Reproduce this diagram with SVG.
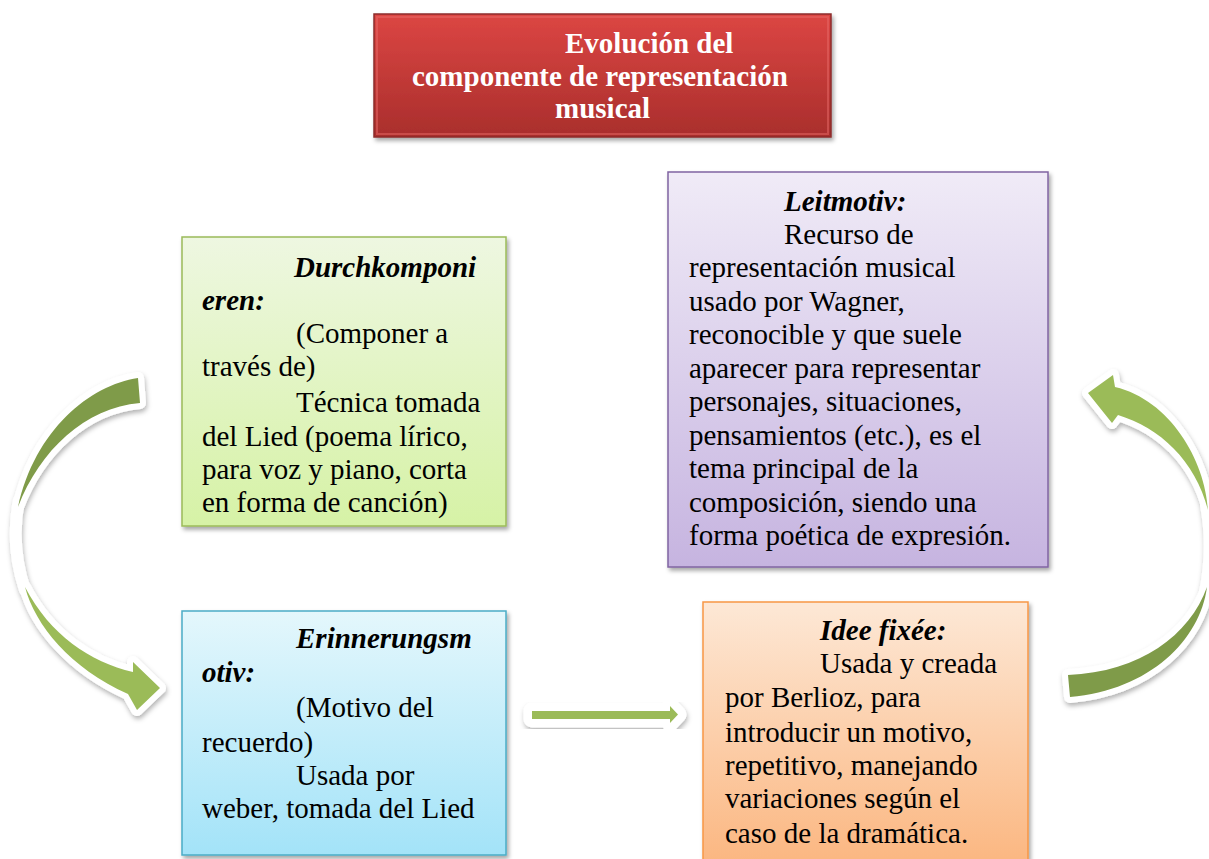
<svg xmlns="http://www.w3.org/2000/svg" width="1209" height="859" viewBox="0 0 1209 859">
  <defs>
    <linearGradient id="gRed" x1="0" y1="0" x2="0" y2="1">
      <stop offset="0" stop-color="#dc4643"/>
      <stop offset="1" stop-color="#a92e2c"/>
    </linearGradient>
    <linearGradient id="gGreen" x1="0" y1="0" x2="0" y2="1">
      <stop offset="0" stop-color="#eef7e1"/>
      <stop offset="1" stop-color="#d6f2a6"/>
    </linearGradient>
    <linearGradient id="gPurple" x1="0" y1="0" x2="0" y2="1">
      <stop offset="0" stop-color="#f0ebf7"/>
      <stop offset="1" stop-color="#c6b4e0"/>
    </linearGradient>
    <linearGradient id="gBlue" x1="0" y1="0" x2="0" y2="1">
      <stop offset="0" stop-color="#e4f7fc"/>
      <stop offset="1" stop-color="#a3e3f8"/>
    </linearGradient>
    <linearGradient id="gOrange" x1="0" y1="0" x2="0" y2="1">
      <stop offset="0" stop-color="#fde8d6"/>
      <stop offset="1" stop-color="#fbb57e"/>
    </linearGradient>
    <filter id="shadow" x="-10%" y="-10%" width="130%" height="130%">
      <feDropShadow dx="2" dy="3" stdDeviation="2" flood-color="#000" flood-opacity="0.35"/>
    </filter>
    <filter id="ashadow" x="-20%" y="-20%" width="150%" height="150%">
      <feDropShadow dx="1" dy="3" stdDeviation="2.5" flood-color="#000" flood-opacity="0.3"/>
    </filter>
  </defs>
  <style>
    .t { font-family: "Liberation Serif", "Times New Roman", serif; font-size: 29px; fill: #000; }
    .h { font-weight: bold; font-style: italic; }
    .title { font-family: "Liberation Serif", "Times New Roman", serif; font-size: 29px; font-weight: bold; fill: #fff; }
    .box { filter: url(#shadow); stroke-width: 1.5; }
    .arr { stroke: #fff; stroke-width: 12; stroke-linejoin: round; paint-order: stroke; }
    .dark { fill: #7f9b48; }
    .light { fill: #9bbb59; }
  </style>

  <g id="connectors">
    <g id="arrow-left" filter="url(#ashadow)">
      <path d="M19,500 Q10,545 25,590" fill="none" stroke="#fff" stroke-width="12" stroke-linecap="round"/>
      <path class="arr dark" d="M138,378 C90,385 35,430 18,507 C40,450 85,408 140,403 Z"/>
      <path class="arr light" d="M25,587 C35,625 70,668 128,694 L137,710 L160,688 L133,662 L133,672 C90,662 50,635 25,587 Z"/>
    </g>
    <g id="arrow-right" filter="url(#ashadow)">
      <path d="M1206,505 Q1214,548 1205,592" fill="none" stroke="#fff" stroke-width="12" stroke-linecap="round"/>
      <path class="arr light" d="M1208,510 C1205,460 1170,400 1115,387 L1113,375 L1088,393 L1112,423 L1118,415 C1160,428 1195,460 1208,510 Z"/>
      <path class="arr dark" d="M1207,587 C1200,640 1150,690 1070,697 L1068,675 C1140,672 1190,635 1207,587 Z"/>
    </g>
    <g id="arrow-middle" filter="url(#ashadow)">
      <path d="M532,711 L670,711 L670,706 L678,714.5 L670,723 L670,719 L532,719 Z" fill="#9bbb59" stroke="#fff" stroke-width="17" stroke-linejoin="round" paint-order="stroke"/>
    </g>
  </g>

  <g id="title">
    <rect class="box" x="374" y="14" width="457" height="123" fill="url(#gRed)" stroke="#8c2d2b"/>
    <rect x="377" y="17" width="451" height="117" fill="none" stroke="#e86a67" stroke-opacity="0.5" stroke-width="2"/>
    <text class="title" x="565" y="53">Evolución del</text>
    <text class="title" x="412" y="86">componente de representación</text>
    <text class="title" x="555" y="118">musical</text>
  </g>

  <g id="durchkomponieren">
    <rect class="box" x="182" y="237" width="324" height="289" fill="url(#gGreen)" stroke="#9bbb59"/>
    <text class="t h" x="294" y="277">Durchkomponi</text>
    <text class="t h" x="202" y="310">eren:</text>
    <text class="t" x="296" y="343">(Componer a</text>
    <text class="t" x="202" y="376">través de)</text>
    <text class="t" x="296" y="412">Técnica tomada</text>
    <text class="t" x="202" y="446">del Lied (poema lírico,</text>
    <text class="t" x="202" y="479">para voz y piano, corta</text>
    <text class="t" x="202" y="512">en forma de canción)</text>
  </g>

  <g id="leitmotiv">
    <rect class="box" x="668" y="172" width="380" height="395" fill="url(#gPurple)" stroke="#8064a2"/>
    <text class="t h" x="784" y="211">Leitmotiv:</text>
    <text class="t" x="784" y="244">Recurso de</text>
    <text class="t" x="689" y="277">representación musical</text>
    <text class="t" x="689" y="311">usado por Wagner,</text>
    <text class="t" x="689" y="344">reconocible y que suele</text>
    <text class="t" x="689" y="378">aparecer para representar</text>
    <text class="t" x="689" y="411">personajes, situaciones,</text>
    <text class="t" x="689" y="445">pensamientos (etc.), es el</text>
    <text class="t" x="689" y="478">tema principal de la</text>
    <text class="t" x="689" y="512">composición, siendo una</text>
    <text class="t" x="689" y="545">forma poética de expresión.</text>
  </g>

  <g id="erinnerungsmotiv">
    <rect class="box" x="182" y="611" width="324" height="244" fill="url(#gBlue)" stroke="#4bacc6"/>
    <text class="t h" x="296" y="648">Erinnerungsm</text>
    <text class="t h" x="202" y="682">otiv:</text>
    <text class="t" x="296" y="717">(Motivo del</text>
    <text class="t" x="202" y="752">recuerdo)</text>
    <text class="t" x="296" y="785">Usada por</text>
    <text class="t" x="202" y="818">weber, tomada del Lied</text>
  </g>

  <g id="idee-fixee">
    <rect class="box" x="703" y="602" width="325" height="270" fill="url(#gOrange)" stroke="#f79646"/>
    <text class="t h" x="820" y="640">Idee fixée:</text>
    <text class="t" x="820" y="673">Usada y creada</text>
    <text class="t" x="725" y="707">por Berlioz, para</text>
    <text class="t" x="725" y="742">introducir un motivo,</text>
    <text class="t" x="725" y="775">repetitivo, manejando</text>
    <text class="t" x="725" y="808">variaciones según el</text>
    <text class="t" x="725" y="843">caso de la dramática.</text>
  </g>
</svg>
